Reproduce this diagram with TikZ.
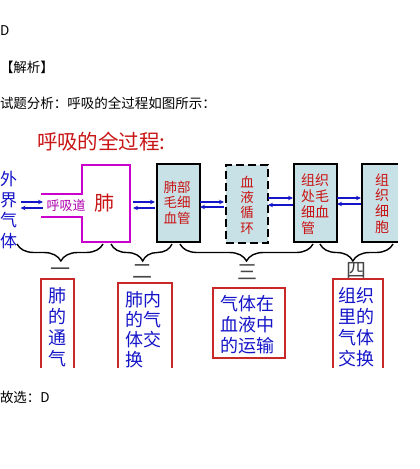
\documentclass[tikz,border=0pt]{standalone}
\usepackage{fontspec}
\setmainfont{Noto Sans CJK SC}
\usetikzlibrary{arrows.meta,decorations.pathreplacing}
\definecolor{txtred}{RGB}{200,20,20}
\definecolor{txtblue}{RGB}{20,20,200}
\definecolor{lungmag}{RGB}{204,0,204}
\definecolor{boxfill}{RGB}{200,225,230}
\definecolor{framered}{RGB}{200,40,40}
\definecolor{numgray}{RGB}{70,70,70}
\begin{document}
\begin{tikzpicture}[x=1pt,y=-1pt,
  plain/.style={inner sep=0pt,outer sep=0pt},
  toptext/.style={plain,anchor=west,font=\fontsize{13.5}{13.5}\selectfont},
  cellbox/.style={plain,draw=black,line width=2pt,fill=boxfill,minimum height=78pt},
  cellfill/.style={plain,fill=boxfill,minimum height=78pt},
  celltext/.style={plain,text=txtred,align=center,font=\fontsize{13.5}{15.6}\selectfont},
  labeltext/.style={plain,text=txtblue,align=left,font=\fontsize{18}{21}\selectfont},
  frame/.style={plain,minimum width=33pt},
  frameline/.style={draw=framered,line width=1.5pt},
  numtext/.style={plain,text=numgray,font=\fontsize{20}{20}\selectfont},
  rarr/.style={draw=txtblue,line width=1.2pt,-{Stealth[length=5pt,width=4.5pt]}},
  larr/.style={draw=txtblue,line width=1.2pt,{Stealth[length=5pt,width=4.5pt]}-},
  bracestyle/.style={draw=black,line width=1.4pt,decorate,decoration={brace,mirror,amplitude=17pt}}
]
\useasboundingbox (0,0) rectangle (420,469);

% page text
\node[toptext] (ans) at (0,31) {D};
\node[toptext] (jx) at (0,67) {【解析】};
\node[toptext] (fx) at (0,103) {试题分析：呼吸的全过程如图所示：};
\node[toptext] (gx) at (0,397) {故选：D};

% title
\node[plain,anchor=west,text=txtred,font=\fontsize{20.5}{20.5}\selectfont] (title) at (37,142) {呼吸的全过程:};

% outside air
\node[plain,text=txtblue,align=center,font=\fontsize{17}{20.7}\selectfont] (air) at (8.5,210) {外\\界\\气\\体};

% lung and airway
\node[plain,minimum width=48pt,minimum height=77pt] (lung) at (106,203.5) {};
\draw[draw=lungmag,line width=1.5pt] (41,194) -- (82,194) -- (82,165) -- (130,165) -- (130,242) -- (82,242) -- (82,217) -- (41,217);
\node[plain,text=lungmag!85!black,font=\fontsize{13}{13}\selectfont] (hxd) at (66,206) {呼吸道};
\node[plain,text=txtred,font=\fontsize{20}{20}\selectfont] (fei) at (104,203) {肺};

% boxes
\node[cellbox,minimum width=43pt] (b1) at (178.5,203) {};
\node[celltext] (t1) at (177,202.5) {肺部\\毛细\\血管};
\node[cellbox,minimum width=42pt,dash pattern=on 8pt off 4pt] (b2) at (247,203.5) {};
\node[celltext,font=\fontsize{13.5}{15.3}\selectfont] (t2) at (247,205) {血\\液\\循\\环};
\node[cellbox,minimum width=43pt] (b3) at (315.5,203) {};
\node[celltext,align=left,font=\fontsize{14}{16}\selectfont] (t3) at (315,204) {组织\\处毛\\细血\\管};
\node[cellfill,minimum width=36pt] (b4) at (380,203) {};
\draw[line width=2pt] (b4.north east) -- (b4.north west) -- (b4.south west) -- (b4.south east);
\node[celltext,font=\fontsize{14}{15.7}\selectfont] (t4) at (382,203.5) {组\\织\\细\\胞};

% arrows
\draw[rarr,shorten <=3.5pt,shorten >=3.5pt] ([yshift=8pt]air.east) -- ([yshift=8pt,xshift=0pt]hxd.west |- air.east);
\draw[larr,shorten <=3.5pt,shorten >=3.5pt] ([yshift=2pt]air.east) -- ([yshift=2pt]hxd.west |- air.east);
\draw[rarr,shorten <=3pt,shorten >=2pt] ([yshift=1.5pt]lung.east) -- ([yshift=1.5pt]b1.west |- lung.east);
\draw[larr,shorten <=3pt,shorten >=2pt] ([yshift=-4.5pt]lung.east) -- ([yshift=-4.5pt]b1.west |- lung.east);
\draw[rarr,shorten >=2pt] ([yshift=1pt]b1.east) -- ([yshift=1pt]b2.west |- b1.east);
\draw[larr,shorten >=2pt] ([yshift=-4pt]b1.east) -- ([yshift=-4pt]b2.west |- b1.east);
\draw[rarr,shorten >=1pt] ([yshift=5.5pt]b2.east) -- ([yshift=5.5pt]b3.west |- b2.east);
\draw[larr,shorten >=1pt] ([yshift=-1.5pt]b2.east) -- ([yshift=-1.5pt]b3.west |- b2.east);
\draw[rarr,shorten >=1pt] ([yshift=5pt]b3.east) -- ([yshift=5pt]b4.west |- b3.east);
\draw[larr,shorten >=1pt] ([yshift=-1pt]b3.east) -- ([yshift=-1pt]b4.west |- b3.east);

% braces
\coordinate (br1a) at (17,244); \coordinate (br1b) at (103,244);
\coordinate (br2a) at (111,244); \coordinate (br2b) at (172,244);
\coordinate (br3a) at (180,244); \coordinate (br3b) at (313,244);
\coordinate (br4a) at (320,244); \coordinate (br4b) at (393,244);
\draw[bracestyle,decoration={aspect=0.51}] (br1a) -- (br1b);
\draw[bracestyle,decoration={aspect=0.52}] (br2a) -- (br2b);
\draw[bracestyle,decoration={aspect=0.5}] (br3a) -- (br3b);
\draw[bracestyle,decoration={aspect=0.45}] (br4a) -- (br4b);

% numbers
\node[numtext] (n1) at (60,272) {一};
\node[numtext] (n2) at (142,272) {二};
\node[numtext] (n3) at (247,272) {三};
\node[numtext] (n4) at (356,270) {四};

% label frames
\node[frame,minimum width=33pt,minimum height=89pt] (fA) at (57.5,323.5) {};
\draw[frameline] (fA.south west) -- (fA.north west) -- (fA.north east) -- (fA.south east);
\node[labeltext] (tA) at (57,327) {肺\\的\\通\\气};

\node[frame,minimum width=54pt,minimum height=85pt] (fB) at (145,325.5) {};
\draw[frameline] (fB.south west) -- (fB.north west) -- (fB.north east) -- (fB.south east);
\node[labeltext,font=\fontsize{18}{20}\selectfont] (tB) at (143,330) {肺内\\的气\\体交\\换};

\node[plain,draw=framered,line width=1.5pt,minimum width=72pt,minimum height=70pt] (fC) at (249,323) {};
\node[labeltext] (tC) at (247,324.5) {气体在\\血液中\\的运输};

\node[frame,minimum width=50pt,minimum height=89pt] (fD) at (358,323.5) {};
\draw[frameline] (fD.south west) -- (fD.north west) -- (fD.north east) -- (fD.south east);
\node[labeltext] (tD) at (356,327) {组织\\里的\\气体\\交换};
\end{tikzpicture}
\end{document}
